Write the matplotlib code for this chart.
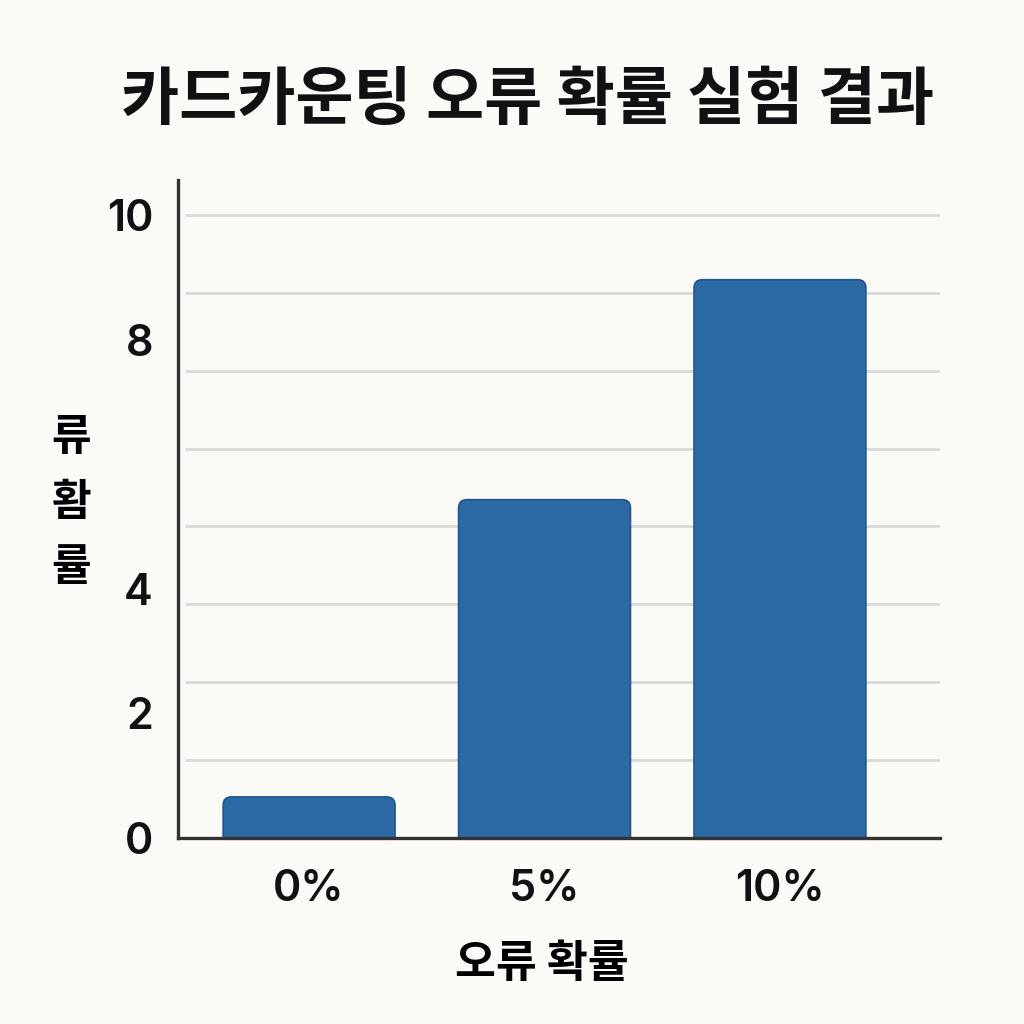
import matplotlib
matplotlib.use("Agg")
import matplotlib.pyplot as plt
from matplotlib.patches import FancyBboxPatch
import numpy as np

plt.rcParams['font.family'] = ['Noto Sans CJK KR', 'DejaVu Sans']

# --- dati ---
categories = ["0%", "5%", "10%"]
values = [0.66, 5.43, 8.96]
ytick_vals = [0, 2, 4, 8, 10]
ytick_labels = ["0", "2", "4", "8", "10"]
grid_vals = np.arange(0, 10.01, 1.25)

BG = "#fbfaf7"
BAR = "#2c6aa5"
EDGE = "#1f5590"
SPINE = "#333333"
NUM_FONT = ["Inter", "Noto Sans CJK KR", "DejaVu Sans"]

fig = plt.figure(figsize=(10.24, 10.24), dpi=100, facecolor=BG)
ax = fig.add_axes([0.1738, 0.1816, 0.7442, 0.6426], facecolor=BG)

x = np.arange(len(categories))
w = 0.73
bars = ax.bar(x, values, w, color=BAR)

ax.set_xlim(-0.557, 2.68)
ax.set_ylim(0, 10.56)

# barre con angoli arrotondati
r = 0.035
aspect = (10.56 / 658) / (3.237 / 762)
for b in bars:
    bx, by = b.get_x(), b.get_y()
    bw, bh = b.get_width(), b.get_height()
    b.set_visible(False)
    p = FancyBboxPatch((bx, by - 0.3), bw, bh + 0.3,
                       boxstyle=f"round,pad=0,rounding_size={r}",
                       mutation_aspect=aspect,
                       facecolor=BAR, edgecolor=EDGE, linewidth=1.2,
                       zorder=3, clip_on=True)
    ax.add_patch(p)

# griglia
for g in grid_vals[1:]:
    ax.plot([-0.527, 2.68], [g, g], color="#d9d9d9", linewidth=2.0, zorder=1,
            solid_capstyle="butt")

ax.set_xticks(x)
ax.set_xticklabels(categories, fontsize=31, fontweight="semibold",
                   family=NUM_FONT, color="#111111")
ax.set_yticks(ytick_vals)
ax.set_yticklabels(ytick_labels, fontsize=31, fontweight="semibold",
                   family=NUM_FONT, color="#111111")
ax.tick_params(axis="both", length=0)
ax.tick_params(axis="x", pad=22)
ax.tick_params(axis="y", pad=18)

for s in ["top", "right"]:
    ax.spines[s].set_visible(False)
for s in ["left", "bottom"]:
    ax.spines[s].set_color(SPINE)
    ax.spines[s].set_linewidth(2.4)
    ax.spines[s].set_zorder(4)

ax.set_xlabel("오류 확률", fontsize=32, fontweight="bold")
ax.xaxis.set_label_coords(0.478, -0.157)
ax.set_ylabel("류\n홤\n률", fontsize=31, fontweight="bold", rotation=0,
              va="center", ha="center", linespacing=1.6)
ax.yaxis.set_label_coords(-0.140, 0.51)

fig.text(0.515, 0.902, "카드카운팅 오류 확률 실험 결과", fontsize=45.5,
         fontweight="bold", ha="center", va="center", color="#111111")

plt.savefig("out.png", dpi=100, facecolor=BG)
plt.close()
